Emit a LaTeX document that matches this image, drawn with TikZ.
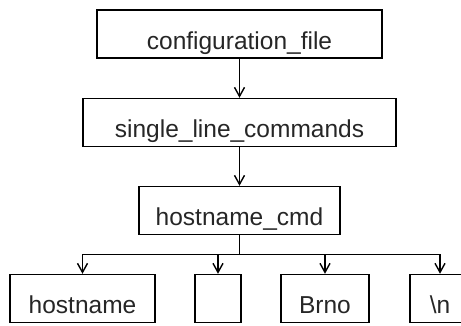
\documentclass[tikz,border=0pt]{standalone}
\usepackage{fontspec}
\setmainfont{Liberation Sans}
\usetikzlibrary{arrows.meta}
\begin{document}
\begin{tikzpicture}[x=1pt,y=-1pt,
  box/.style={draw=black,line width=1.5pt,inner sep=0pt,text height=39pt,text depth=9pt,
    font=\fontsize{24.5}{29}\selectfont,text=black!85},
  arr/.style={line width=1.5pt,-{Straight Barb[length=9pt,width=10pt,line width=1.4pt]}},
  ln/.style={line width=1.5pt}]
\useasboundingbox (0,0) rectangle (461,325);
\node[box,minimum width=285pt] (cf) at (239.5,34) {configuration\_file};
\node[box,minimum width=313pt] (sl) at (239.5,122.5) {single\_line\_commands};
\node[box,minimum width=201pt] (hc) at (239.5,210.5) {hostname\_cmd};
\node[box,minimum width=145pt] (c1) at (82.5,298.5) {hostname};
\node[box,minimum width=46pt] (c2) at (218,298.5) {};
\node[box,minimum width=88pt] (c3) at (325,298.5) {Brno};
\node[box,minimum width=60pt] (c4) at (440,298.5) {\textbackslash n};
\draw[arr] (cf.south) -- (sl.north);
\draw[arr] (sl.south) -- (hc.north);
\coordinate (j) at (239.5,254.5);
\draw[ln] (hc.south) -- (j);
\draw[arr] (j) -| (c1.north);
\draw[arr] (j) -| (c2.north);
\draw[arr] (j) -| (c3.north);
\draw[arr] (j) -| (c4.north);
\end{tikzpicture}
\end{document}
